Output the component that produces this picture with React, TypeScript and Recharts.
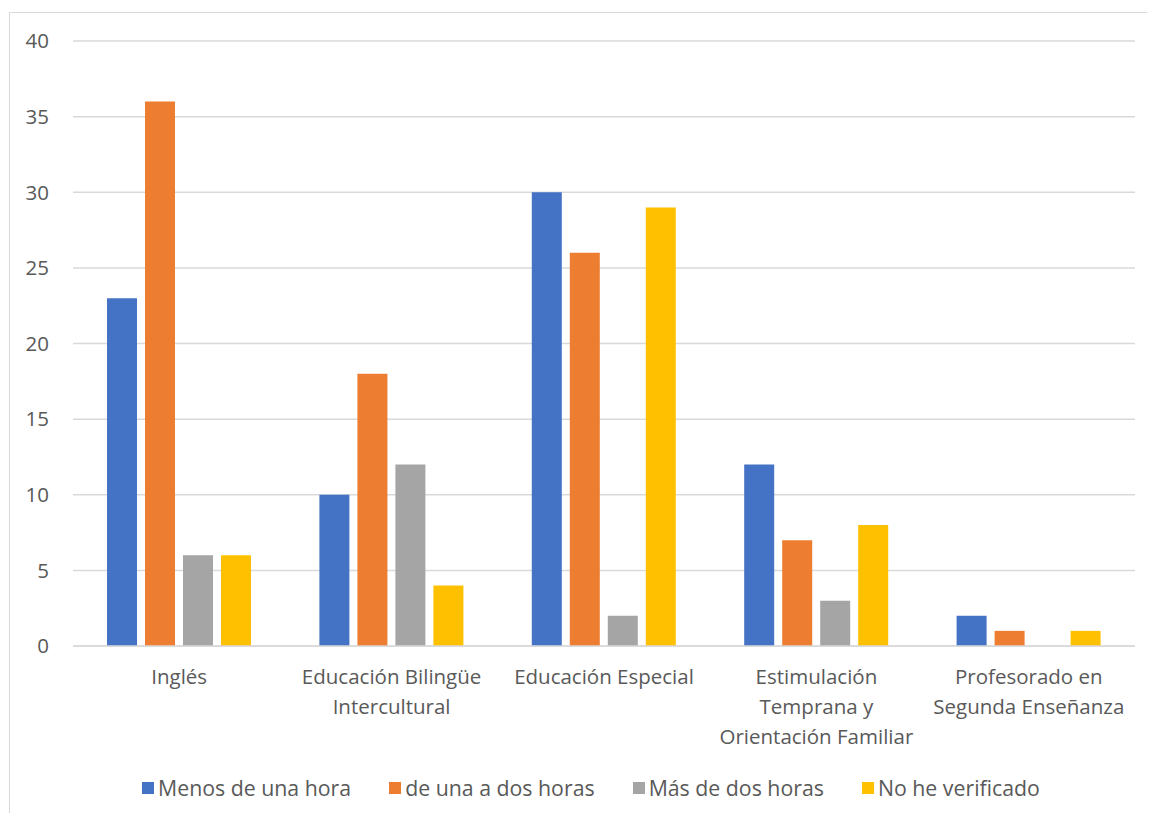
import React from 'react';
import { BarChart, Bar, XAxis, YAxis, CartesianGrid } from 'recharts';

const categories = [
  'Inglés',
  'Educación Bilingüe\nIntercultural',
  'Educación Especial',
  'Estimulación\nTemprana y\nOrientación Familiar',
  'Profesorado en\nSegunda Enseñanza',
];
const menosDeUnaHora = [23, 10, 30, 12, 2];
const deUnaADosHoras = [36, 18, 26, 7, 1];
const masDeDosHoras = [6, 12, 2, 3, 0];
const noHeVerificado = [6, 4, 29, 8, 1];
const yTicks = [0, 5, 10, 15, 20, 25, 30, 35, 40];

const series = [
  { key: 'menos', name: 'Menos de una hora', color: '#4472C4', values: menosDeUnaHora },
  { key: 'unaDos', name: 'de una a dos horas', color: '#ED7D31', values: deUnaADosHoras },
  { key: 'mas', name: 'Más de dos horas', color: '#A5A5A5', values: masDeDosHoras },
  { key: 'noVer', name: 'No he verificado', color: '#FFC000', values: noHeVerificado },
];

const data = categories.map((c, i) => {
  const row: Record<string, string | number> = { category: c };
  series.forEach(s => {
    row[s.key] = s.values[i];
  });
  return row;
});

const FONT = '"Open Sans", "Noto Sans", sans-serif';
const TEXT = '#595959';

const CategoryTick = (props: any) => {
  const { x, y, payload } = props;
  const lines = String(payload.value).split('\n');
  return (
    <text x={x} y={y} textAnchor="middle" fill={TEXT} fontSize={20.5} fontFamily={FONT}>
      {lines.map((l, i) => (
        <tspan key={i} x={x} dy={i === 0 ? 30 : 30}>
          {l}
        </tspan>
      ))}
    </text>
  );
};

export default function App() {
  return (
    <div style={{ position: 'relative', margin: -8, width: 1155, height: 821, background: '#fff', overflow: 'hidden' }}>
      <div
        style={{
          position: 'absolute',
          left: 9,
          top: 12,
          width: 1160,
          height: 820,
          border: '1px solid #d9d9d9',
        }}
      />
      <div style={{ position: 'absolute', left: 0, top: 0 }}>
        <BarChart
          width={1155}
          height={821}
          data={data}
          margin={{ top: 41, right: 20, bottom: 65, left: 33 }}
          barSize={30}
          barGap={8}
        >
          <CartesianGrid vertical={false} stroke="#d9d9d9" strokeWidth={1.5} />
          <XAxis
            dataKey="category"
            height={110}
            interval={0}
            tickLine={false}
            axisLine={{ stroke: '#d9d9d9', strokeWidth: 1.5 }}
            tick={<CategoryTick />}
          />
          <YAxis
            width={40}
            domain={[0, 40]}
            ticks={yTicks}
            tickLine={false}
            axisLine={false}
            tickSize={0}
            tickMargin={24}
            tick={{ fill: TEXT, fontSize: 20.5, fontFamily: FONT }}
          />
          {series.map(s => (
            <Bar
              key={s.key}
              dataKey={s.key}
              name={s.name}
              fill={s.color}
              isAnimationActive={false}
            />
          ))}
        </BarChart>
      </div>
      <div
        style={{
          position: 'absolute',
          left: 0,
          top: 773,
          width: 1182,
          display: 'flex',
          justifyContent: 'center',
          gap: 38,
          fontFamily: FONT,
          fontSize: 21.3,
          color: TEXT,
          lineHeight: '30px',
        }}
      >
        {series.map(s => (
          <div key={s.key} style={{ display: 'flex', alignItems: 'center', gap: 4 }}>
            <span style={{ width: 12, height: 12, background: s.color, display: 'inline-block' }} />
            <span>{s.name}</span>
          </div>
        ))}
      </div>
    </div>
  );
}
